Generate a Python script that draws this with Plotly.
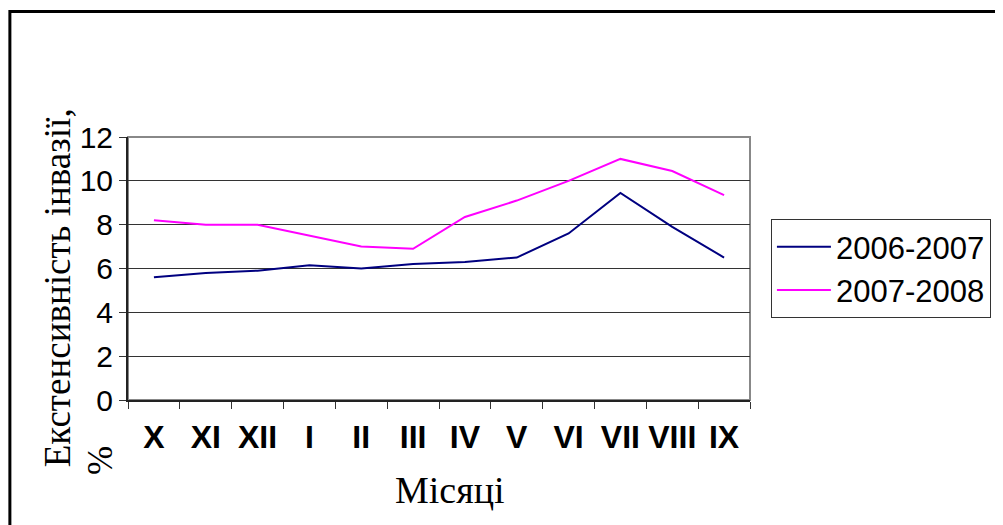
import plotly.graph_objects as go

months = ["X", "XI", "XII", "I", "II", "III", "IV", "V", "VI", "VII", "VIII", "IX"]
s2006 = [5.6, 5.8, 5.9, 6.15, 6.0, 6.2, 6.3, 6.5, 7.6, 9.45, 7.9, 6.5]
s2007 = [8.2, 8.0, 8.0, 7.5, 7.0, 6.9, 8.35, 9.1, 10.0, 11.0, 10.45, 9.35]
names = ["2006-2007", "2007-2008"]
y_ticks = [0, 2, 4, 6, 8, 10, 12]

OFF = 8  # page body margin
W, H = 995, 517
L, T = 120, 129
pw, ph = 624, 263
R = W - L - pw
B = H - T - ph

def px_x(x):  # page pixel -> paper
    return (x - OFF - L) / pw

def px_y(y):
    return (T + ph - (y - OFF)) / ph

fig = go.Figure()
fig.add_trace(go.Scatter(x=months, y=s2006, name=names[0], mode="lines",
                         line=dict(color="#000080", width=2)))
fig.add_trace(go.Scatter(x=months, y=s2007, name=names[1], mode="lines",
                         line=dict(color="#FF00FF", width=2)))

fig.update_layout(
    width=W, height=H,
    margin=dict(l=L, r=R, t=T, b=B),
    paper_bgcolor="white", plot_bgcolor="white",
    font=dict(family="Liberation Sans, Arial", color="black"),
    showlegend=True,
    legend=dict(
        x=px_x(773), y=px_y(219), xanchor="left", yanchor="top",
        bgcolor="white", bordercolor="#333", borderwidth=1,
        font=dict(family="Liberation Sans, Arial", size=31, color="black"),
        tracegroupgap=0, itemwidth=54,
    ),
    xaxis=dict(
        type="category", tickson="boundaries", tickangle=0,
        ticks="outside", ticklen=7, tickcolor="#333", tickwidth=1,
        showline=True, linecolor="#222", linewidth=2,
        showgrid=False, zeroline=False,
        tickfont=dict(family="Liberation Sans, Arial", size=32, color="black", weight="bold"),
        ticklabelstandoff=8,
        range=[-0.5, 11.5],
    ),
    yaxis=dict(
        range=[0, 12], tickvals=y_ticks,
        ticks="outside", ticklen=7, tickcolor="#333", tickwidth=1,
        showline=True, linecolor="#222", linewidth=2,
        showgrid=True, gridcolor="#333", gridwidth=1,
        zeroline=False,
        tickfont=dict(family="Liberation Sans, Arial", size=30, color="black"),
    ),
    shapes=[
        dict(type="rect", xref="paper", yref="paper", x0=0, y0=0, x1=1, y1=1,
             line=dict(color="#888", width=2), layer="below"),
        dict(type="rect", xref="paper", yref="paper",
             x0=px_x(9.5), y0=px_y(560), x1=px_x(1060), y1=px_y(11.5),
             line=dict(color="black", width=3), layer="above"),
    ],
    annotations=[
        dict(text="Екстенсивність інвазії,", xref="paper", yref="paper",
             x=px_x(57), y=px_y(288), textangle=-90, showarrow=False,
             xanchor="center", yanchor="middle",
             font=dict(family="Liberation Serif, Times New Roman", size=37, color="black")),
        dict(text="%", xref="paper", yref="paper",
             x=px_x(100), y=px_y(461), textangle=-90, showarrow=False,
             xanchor="center", yanchor="middle",
             font=dict(family="Liberation Serif, Times New Roman", size=35, color="black")),
        dict(text="Місяці", xref="paper", yref="paper",
             x=px_x(451), y=px_y(490), showarrow=False,
             xanchor="center", yanchor="middle",
             font=dict(family="Liberation Serif, Times New Roman", size=38, color="black")),
    ],
)

fig.write_html("out.html")
